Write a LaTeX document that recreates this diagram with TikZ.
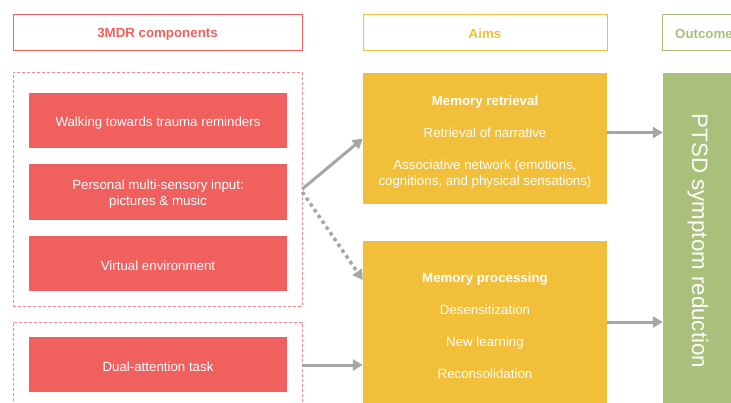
\documentclass[tikz,border=0pt]{standalone}
\usepackage{fontspec}
\setmainfont{Liberation Sans}
\usetikzlibrary{arrows.meta}
\definecolor{mdrred}{RGB}{240,96,94}
\definecolor{aimyellow}{RGB}{242,191,58}
\definecolor{outgreen}{RGB}{168,192,122}
\definecolor{arrowgray}{RGB}{166,166,166}
% tall strut for the first line of a box, so its text sits a little lower
\newcommand\firstline[1]{\rule{0pt}{#1}}

\begin{document}
\begin{tikzpicture}[x=1pt, y=-1pt,
    every node/.style={font=\fontsize{13.3}{16}\selectfont},
    lowtext/.style={execute at begin node={\firstline{#1}}},
    header/.style={draw=#1, line width=0.9pt, text=#1, font=\fontsize{13.3}{16}\selectfont\bfseries, minimum height=36pt, inner sep=0pt, lowtext=13.5pt},
    group/.style={draw=mdrred!75, dash pattern=on 3pt off 2pt, line width=0.6pt, minimum width=289pt, inner sep=0pt},
    comp/.style={fill=mdrred, text=white, minimum width=258pt, minimum height=55.5pt, inner sep=0pt, align=center},
    aim/.style={fill=aimyellow, text=white, minimum width=244pt, inner sep=0pt, align=center},
    link/.style={draw=arrowgray, line width=3pt, -{Triangle[length=10pt, width=11pt]}}]
    \useasboundingbox (0,0) rectangle (731,402);
    \clip (0,0) rectangle (731,402);

    % column headers
    \node (hcomp) [header=mdrred, minimum width=289pt] at (157.5,32) {3MDR components};
    \node (haims) [header=aimyellow, minimum width=244pt] at (485,32) {Aims};
    \node (hout) [header=outgreen, minimum width=84pt] at (704,32) {Outcome};

    % 3MDR components
    \node (grp1) [group, minimum height=234pt] at (157.5,189) {};
    \node (grp2) [group, minimum height=86pt] at (157.5,365) {};
    \node (walk) [comp] at (158,120.5) {\firstline{14pt}Walking towards trauma reminders};
    \node (input) [comp] at (158,192) {\firstline{14.5pt}Personal multi-sensory input:\\pictures \& music};
    \node (venv) [comp] at (158,263.5) {\firstline{14pt}Virtual environment};
    \node (dual) [comp] at (158,364.5) {\firstline{14pt}Dual-attention task};

    % aims
    \node (mret) [aim, minimum height=131pt] at (485,138.5) {\firstline{16pt}\textbf{Memory retrieval}\\[16pt]
        Retrieval of narrative\\[16pt]
        Associative network (emotions,\\cognitions, and physical sensations)};
    \node (mproc) [aim, minimum height=162pt] at (485,322) {\firstline{16.5pt}\textbf{Memory processing}\\[16pt]
        Desensitization\\[16pt]
        New learning\\[16pt]
        Reconsolidation};

    % outcome
    \node (outc) [fill=outgreen, minimum width=70pt, minimum height=336pt, inner sep=0pt] at (698,241) {};
    \node (outtext) [rotate=-90, text=white, font=\fontsize{22.3}{26}\selectfont] at (outc.center) {PTSD symptom reduction};

    \draw [link] (grp1.east) -- (mret.west);
    \draw [link, line width=3.5pt, dash pattern=on 3.5pt off 3.5pt] ([yshift=-3pt]grp1.east) -- ([yshift=42pt]mproc.west);
    \draw [link] (grp2.east) -- (grp2.east -| mproc.west);
    \draw [link] ([yshift=6pt]mret.east) -- ([yshift=6pt]mret.east -| outc.west);
    \draw [link] (mproc.east) -- (mproc.east -| outc.west);
\end{tikzpicture}
\end{document}
